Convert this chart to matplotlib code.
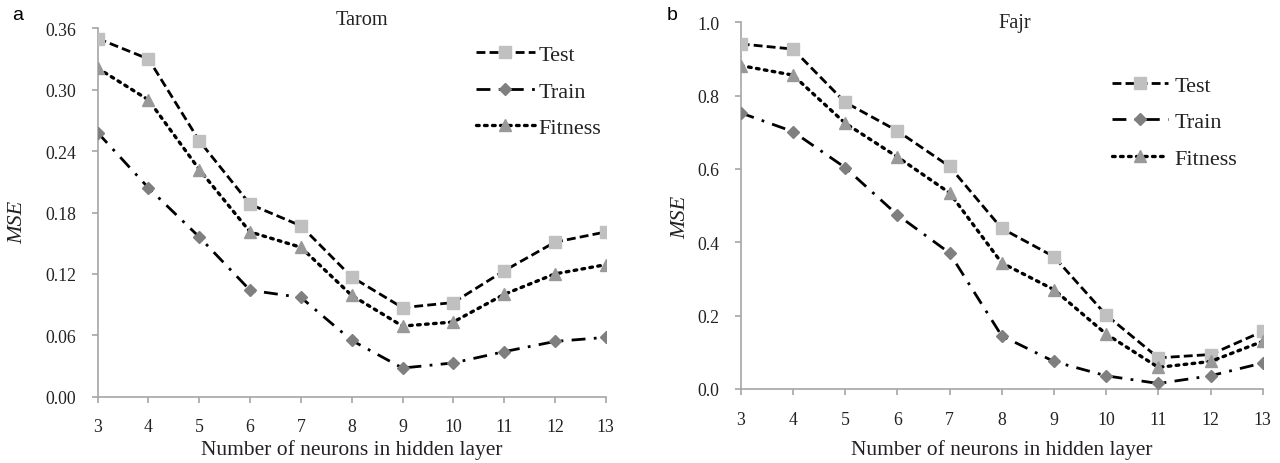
import numpy as np
import matplotlib
matplotlib.use("Agg")
import matplotlib.pyplot as plt

# neurons in hidden layer
neurons = list(range(3, 14))

# Tarom
tarom_test = [0.350, 0.330, 0.250, 0.188, 0.167, 0.117, 0.087, 0.092, 0.123, 0.151, 0.161]
tarom_train = [0.258, 0.204, 0.156, 0.104, 0.097, 0.055, 0.028, 0.033, 0.044, 0.054, 0.058]
tarom_fitness = [0.321, 0.290, 0.222, 0.161, 0.146, 0.099, 0.069, 0.073, 0.100, 0.120, 0.129]

# Fajr
fajr_test = [0.941, 0.927, 0.782, 0.704, 0.607, 0.438, 0.361, 0.202, 0.085, 0.094, 0.157]
fajr_train = [0.753, 0.702, 0.604, 0.475, 0.371, 0.145, 0.075, 0.036, 0.015, 0.036, 0.071]
fajr_fitness = [0.882, 0.856, 0.725, 0.633, 0.535, 0.344, 0.271, 0.150, 0.059, 0.075, 0.130]

plt.rcParams['font.family'] = ['Liberation Serif', 'DejaVu Serif']

axis_grey = '#a6a6a6'
text_col = '#222222'

fig = plt.figure(figsize=(12.8, 4.64), dpi=100)
ax1 = fig.add_axes([97.7/1280, 1-397.7/464, 508/1280, 368.4/464])
ax2 = fig.add_axes([740.7/1280, 1-390/464, 522/1280, 366.7/464])


def draw(ax, test, train, fitness, yticks, fmt, title, title_xy,
         ylab_xy, xlab_y, leg_xy, hlen, hpad):
    ax.plot(neurons, test, color='black', lw=2.0, ls=(0, (3.2, 1.5)),
            marker='s', ms=8.5, mfc='#c0c0c0', mec='#c0c0c0', label='Test', zorder=3)
    ax.plot(neurons, train, color='black', lw=2.0, ls=(0, (5, 3, 1, 3)),
            marker='D', ms=6, mfc='#7f7f7f', mec='#7f7f7f', label='Train', zorder=3)
    ax.plot(neurons, fitness, color='black', lw=2.4, ls=(0, (0.8, 1.6)),
            dash_capstyle='round', marker='^', ms=9, mfc='#999999', mec='#999999',
            label='Fitness', zorder=3)
    ax.set_xlim(3, 13)
    ax.set_ylim(yticks[0], yticks[-1])
    ax.set_xticks(neurons)
    ax.set_yticks(yticks)
    ax.set_yticklabels([fmt.format(v) for v in yticks])
    for s in ['top', 'right']:
        ax.spines[s].set_visible(False)
    for s in ['left', 'bottom']:
        ax.spines[s].set_color(axis_grey)
        ax.spines[s].set_linewidth(1.2)
    ax.tick_params(axis='both', colors=axis_grey, labelcolor=text_col,
                   labelsize=12.8, length=4, width=1.2, pad=11.5)
    ax.set_xlabel('Number of neurons in hidden layer', fontsize=15.5, color=text_col)
    ax.xaxis.label.set_va('center')
    ax.xaxis.set_label_coords(0.5, xlab_y)
    ax.set_ylabel('MSE', fontsize=16, style='italic', color=text_col)
    ax.yaxis.label.set_va('center')
    ax.yaxis.set_label_coords(*ylab_xy)
    ax.text(title_xy[0], title_xy[1], title, transform=ax.transAxes,
            fontsize=14.6, color=text_col, ha='center', va='center')
    ax.legend(loc='upper left', bbox_to_anchor=leg_xy, frameon=False,
              fontsize=16, handlelength=hlen, handletextpad=hpad,
              labelspacing=0.72, borderpad=0, borderaxespad=0, numpoints=1,
              labelcolor=text_col)


draw(ax1, tarom_test, tarom_train, tarom_fitness,
     [0.0, 0.06, 0.12, 0.18, 0.24, 0.30, 0.36], '{:.2f}', 'Tarom', (0.520, 1.025),
     (-0.157, 0.477), -0.142, (0.744, 0.956), 2.67, 0.14)
draw(ax2, fajr_test, fajr_train, fajr_fitness,
     [0.0, 0.2, 0.4, 0.6, 0.8, 1.0], '{:.1f}', 'Fajr', (0.5255, 1.0),
     (-0.114, 0.472), -0.164, (0.711, 0.856), 2.54, 0.27)

fig.text(18/1280, 1-15/464, 'a', family='Liberation Sans', fontsize=14, va='center', ha='center')
fig.text(672/1280, 1-15/464, 'b', family='Liberation Sans', fontsize=14, va='center', ha='center')

fig.savefig('out.png', dpi=100)
